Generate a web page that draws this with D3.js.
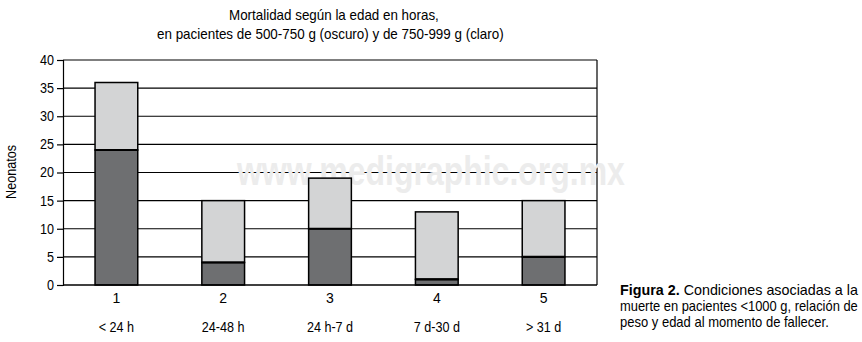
<!DOCTYPE html>
<html><head><meta charset="utf-8">
<script src="https://cdn.jsdelivr.net/npm/d3@7"></script>
<style>
body{margin:0;background:#fff;}
text{font-family:"Liberation Sans","Arial",sans-serif;}
</style></head>
<body><svg id="c" width="862" height="342"></svg>
<script>
const categories = ["1","2","3","4","5"];
const subLabels = ["< 24 h","24-48 h","24 h-7 d","7 d-30 d","> 31 d"];
const dark = [24, 4, 10, 1, 5];      // 500-750 g (oscuro)
const light = [12, 11, 9, 12, 10];   // 750-999 g (claro)
const yTicks = [0,5,10,15,20,25,30,35,40];

const svg = d3.select("#c");
const m = {left:63, right:597, top:60, bottom:285};
const x = d3.scaleBand().domain(categories).range([m.left, m.right]).paddingInner(0.6).paddingOuter(0.3);
const y = d3.scaleLinear().domain([0,40]).range([m.bottom, m.top]);

// place a text starting at (x0,y0) squeezed horizontally to width w
function fitText(sel, x0, y0, w){
  const len = sel.node().getComputedTextLength();
  sel.attr("x",0).attr("y",0).attr("transform",`translate(${x0},${y0}) scale(${w/len},1)`);
}

// gridlines
svg.append("g").selectAll("line").data(yTicks.filter(d=>d>0)).join("line")
  .attr("x1", m.left).attr("x2", m.right).attr("y1", d=>y(d)).attr("y2", d=>y(d))
  .attr("stroke","#000").attr("stroke-width",1.2);
// right border
svg.append("line").attr("x1",m.right).attr("x2",m.right).attr("y1",m.top).attr("y2",m.bottom)
  .attr("stroke","#000").attr("stroke-width",1.2);

// watermark
const wm = svg.append("text").attr("font-size", 40).attr("font-weight","bold").attr("fill","#ececec")
  .text("www.medigraphic.org.mx");
fitText(wm, 237, 185, 388);

// y axis
const ya = svg.append("g").attr("transform",`translate(${m.left},0)`)
  .call(d3.axisLeft(y).tickValues(yTicks).tickSize(6).tickPadding(4));
ya.select(".domain").attr("stroke","#000").attr("stroke-width",1.2);
ya.selectAll(".tick line").attr("stroke-width",1.2);
ya.selectAll("text").attr("font-size",14).attr("fill","#000").attr("transform","scale(0.9,1)");

// bars
const stack = categories.map((c,i)=>({c, d:dark[i], l:light[i]}));
const g = svg.append("g");
g.selectAll("rect.l").data(stack).join("rect").attr("class","l")
  .attr("x", d=>x(d.c)).attr("width", x.bandwidth())
  .attr("y", d=>y(d.d+d.l)).attr("height", d=>y(d.d)-y(d.d+d.l))
  .attr("fill","#d3d4d5").attr("stroke","#000").attr("stroke-width",1.5);
g.selectAll("rect.d").data(stack).join("rect").attr("class","d")
  .attr("x", d=>x(d.c)).attr("width", x.bandwidth())
  .attr("y", d=>y(d.d)).attr("height", d=>y(0)-y(d.d))
  .attr("fill","#6e6f71").attr("stroke","#000").attr("stroke-width",1.5);
g.selectAll("line.t").data(stack).join("line").attr("class","t")
  .attr("x1", d=>x(d.c)).attr("x2", d=>x(d.c)+x.bandwidth())
  .attr("y1", d=>y(d.d)).attr("y2", d=>y(d.d)).attr("stroke","#000").attr("stroke-width",2.2);

// x axis baseline
svg.append("line").attr("x1",m.left).attr("x2",m.right).attr("y1",m.bottom).attr("y2",m.bottom)
  .attr("stroke","#000").attr("stroke-width",1.5);

// x labels
svg.append("g").selectAll("text").data(categories).join("text")
  .attr("x", d=>x(d)+x.bandwidth()/2).attr("y", 303).attr("text-anchor","middle")
  .attr("font-size",14).text(d=>d);
svg.append("g").selectAll("text").data(categories).join("text")
  .attr("transform", d=>`translate(${x(d)+x.bandwidth()/2},332) scale(0.9,1)`).attr("text-anchor","middle")
  .attr("font-size",14).text((d,i)=>subLabels[i]);

// title
fitText(svg.append("text").attr("font-size",14).text("Mortalidad según la edad en horas,"), 229, 20, 210);
fitText(svg.append("text").attr("font-size",14).text("en pacientes de 500-750 g (oscuro) y de 750-999 g (claro)"), 157, 39, 347);

// y label
svg.append("text").attr("transform","translate(16,172) rotate(-90) scale(0.9,1)").attr("text-anchor","middle")
  .attr("font-size",14).text("Neonatos");

// caption
const c1 = svg.append("text").attr("font-size",14);
c1.append("tspan").attr("font-weight","bold").text("Figura 2.");
c1.append("tspan").text(" Condiciones asociadas a la");
fitText(c1, 620, 295, 238);
fitText(svg.append("text").attr("font-size",14).text("muerte en pacientes <1000 g, relación de"), 620, 311, 238);
fitText(svg.append("text").attr("font-size",14).text("peso y edad al momento de fallecer."), 620, 327, 209);
</script></body></html>
